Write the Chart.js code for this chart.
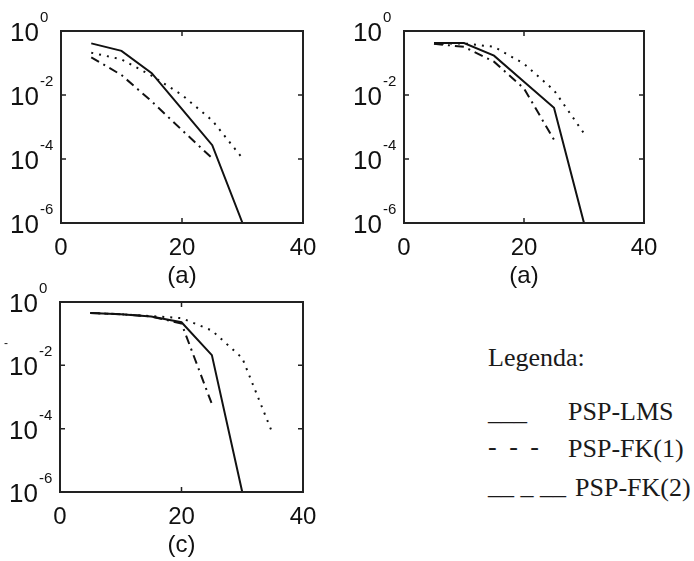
<!DOCTYPE html>
<html lang="pt">
<head>
<meta charset="UTF-8">
<title>PSP curves</title>
<script src="https://cdn.jsdelivr.net/npm/chart.js@4.4.0/dist/chart.umd.min.js"></script>
<style>
body { margin: 0; background: #fff; }
#wrap { position: relative; width: 694px; height: 561px; overflow: hidden; }
canvas { position: absolute; }
.leg { position: absolute; font-family: "Liberation Serif", "Times New Roman", serif; font-size: 26px; line-height: 26px; color: #1a1a1a; white-space: pre; }
</style>
</head>
<body>
<div id="wrap">
  <canvas id="c1" width="340" height="295" style="left:0;top:0"></canvas>
  <canvas id="c2" width="354" height="295" style="left:340px;top:0"></canvas>
  <canvas id="c3" width="340" height="301" style="left:0;top:260px"></canvas>

  <div class="leg" style="left:4px;top:330px;font-family:'Liberation Sans',Arial,sans-serif;font-size:12px">-</div>
  <div class="leg" style="left:488px;top:345px">Legenda:</div>
  <div class="leg" style="left:488px;top:399px">___</div>
  <div class="leg" style="left:568px;top:399px">PSP-LMS</div>
  <div class="leg" style="left:488px;top:434px;word-spacing:6px">- - -</div>
  <div class="leg" style="left:568px;top:436px">PSP-FK(1)</div>
  <div class="leg" style="left:488px;top:473px">__ _ __</div>
  <div class="leg" style="left:575px;top:475px">PSP-FK(2)</div>
</div>
<script>
// x values shared by all panels
const xVals = [5, 10, 15, 20, 25, 30, 35];
const xTicks = [0, 20, 40];
const yExps = [0, -2, -4, -6]; // decades shown on the y axis

// panel 1 (a)
const p1Lms = [0.41, 0.24, 0.048, 0.0036, 0.00027, 0.000001];
const p1Fk1 = [0.21, 0.13, 0.04, 0.01, 0.0016, 0.000105];
const p1Fk2 = [0.15, 0.042, 0.0063, 0.0008, 0.000105];

// panel 2 (a)
const p2Lms = [0.42, 0.42, 0.17, 0.026, 0.004, 0.000001];
const p2Fk1 = [0.41, 0.41, 0.32, 0.095, 0.014, 0.00063];
const p2Fk2 = [0.40, 0.32, 0.11, 0.016, 0.0004];

// panel 3 (c)
const p3Lms = [0.45, 0.41, 0.35, 0.23, 0.021, 0.000001];
const p3Fk1 = [0.45, 0.41, 0.36, 0.31, 0.126, 0.017, 0.00007];
const p3Fk2 = [0.45, 0.41, 0.35, 0.21, 0.0006];

const sans = '"Liberation Sans", Arial, Helvetica, sans-serif';

// box, inward ticks and matlab style labels
const frame = {
  id: 'frame',
  afterDraw(chart, args, opts) {
    const ctx = chart.ctx, a = chart.chartArea;
    const xs = chart.scales.x, ys = chart.scales.y;
    ctx.save();
    ctx.strokeStyle = '#222';
    ctx.lineWidth = 2;
    ctx.strokeRect(a.left, a.top, a.right - a.left, a.bottom - a.top);
    ctx.lineWidth = 1.5;
    ctx.beginPath();
    xTicks.forEach(v => {
      const px = xs.getPixelForValue(v);
      ctx.moveTo(px, a.bottom); ctx.lineTo(px, a.bottom - 5);
      ctx.moveTo(px, a.top); ctx.lineTo(px, a.top + 5);
    });
    yExps.forEach(e => {
      const py = ys.getPixelForValue(Math.pow(10, e));
      ctx.moveTo(a.left, py); ctx.lineTo(a.left + 5, py);
      ctx.moveTo(a.right, py); ctx.lineTo(a.right - 5, py);
    });
    ctx.stroke();

    ctx.fillStyle = '#111';
    ctx.textBaseline = 'alphabetic';
    ctx.textAlign = 'center';
    ctx.font = '24px ' + sans;
    xTicks.forEach(v => ctx.fillText(String(v), xs.getPixelForValue(v), a.bottom + 32));
    ctx.fillText(opts.caption, (a.left + a.right) / 2, a.bottom + 60);

    ctx.textAlign = 'left';
    yExps.forEach(e => {
      const py = ys.getPixelForValue(Math.pow(10, e));
      ctx.font = '26px ' + sans;
      ctx.fillText('10', a.left - 51, py + 10);
      const w = ctx.measureText('10').width;
      ctx.font = '15px ' + sans;
      ctx.fillText(String(e), a.left - 51 + w + 1, py - 9);
    });
    ctx.restore();
  }
};

function series(vals, dash) {
  return {
    data: vals.map((v, i) => ({ x: xVals[i], y: v })),
    borderColor: '#111',
    borderWidth: 2,
    borderDash: dash,
    pointRadius: 0,
    fill: false,
    tension: 0
  };
}

function makeChart(id, lms, fk1, fk2, caption, pad) {
  return new Chart(document.getElementById(id), {
    type: 'line',
    data: {
      datasets: [
        series(lms, []),
        series(fk1, [2, 6]),
        series(fk2, [9, 5, 2, 5])
      ]
    },
    options: {
      responsive: false,
      animation: false,
      layout: { padding: pad },
      plugins: {
        legend: { display: false },
        tooltip: { enabled: false },
        frame: { caption: caption }
      },
      scales: {
        x: { type: 'linear', min: 0, max: 40, display: false },
        y: { type: 'logarithmic', min: 1e-6, max: 1, display: false }
      }
    },
    plugins: [frame]
  });
}

makeChart('c1', p1Lms, p1Fk1, p1Fk2, '(a)', { left: 61, top: 31, right: 37, bottom: 72 });
makeChart('c2', p2Lms, p2Fk1, p2Fk2, '(a)', { left: 64, top: 31, right: 50, bottom: 72 });
makeChart('c3', p3Lms, p3Fk1, p3Fk2, '(c)', { left: 60, top: 42, right: 37, bottom: 69 });
</script>
</body>
</html>
